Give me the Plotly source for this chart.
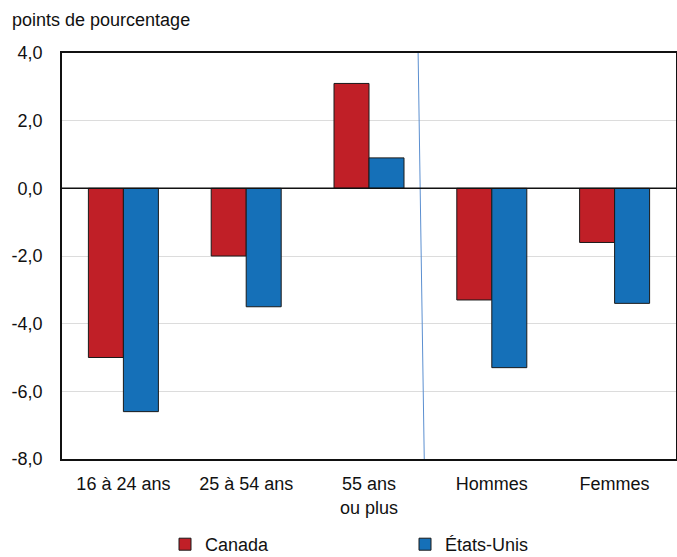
import plotly.graph_objects as go

categories = ["16 à 24 ans", "25 à 54 ans", "55 ans<br>ou plus", "Hommes", "Femmes"]
canada = [-5.0, -2.0, 3.1, -3.3, -1.6]
etats_unis = [-6.6, -3.5, 0.9, -5.3, -3.4]
y_ticks = [-8, -6, -4, -2, 0, 2, 4]
y_ticktext = [f"{v:.1f}".replace(".", ",") for v in y_ticks]

FONT = "Liberation Sans, Arial, sans-serif"
FS = 18
PW = 614
PH = 406

fig = go.Figure()
fig.add_trace(go.Bar(x=categories, y=canada, name="Canada",
                     marker=dict(color="#C01F27", line=dict(color="#1a1a1a", width=1))))
fig.add_trace(go.Bar(x=categories, y=etats_unis, name="États-Unis",
                     marker=dict(color="#1570B8", line=dict(color="#1a1a1a", width=1))))

fig.add_shape(type="line", xref="x", yref="y", x0=2.40, x1=2.45, y0=4, y1=-8,
              line=dict(color="#5b8fd0", width=1))
fig.add_shape(type="line", xref="paper", yref="y", x0=0, x1=1, y0=0, y1=0,
              line=dict(color="#111", width=1.5))

fig.update_layout(
    width=677, height=557,
    margin=dict(l=62, r=1, t=53, b=98, autoexpand=False),
    paper_bgcolor="white", plot_bgcolor="white",
    font=dict(family=FONT, size=FS, color="#111"),
    barmode="group", bargap=0.43, bargroupgap=0,
    showlegend=True,
    legend=dict(orientation="h", x=(165 - 62) / PW, xanchor="left",
                y=-(67 - 0) / PH, yanchor="top",
                entrywidth=195, entrywidthmode="pixels", itemwidth=30,
                font=dict(family=FONT, size=FS), traceorder="normal"),
    annotations=[dict(text="points de pourcentage", xref="paper", yref="paper",
                      x=-52 / PW, y=1.0, yshift=21, xanchor="left", yanchor="bottom",
                      showarrow=False, font=dict(family=FONT, size=FS))],
)
fig.update_xaxes(showline=True, linecolor="#111", linewidth=1.5, mirror=True,
                 showgrid=False, ticks="", automargin=False, ticklabelstandoff=8,
                 tickfont=dict(family=FONT, size=FS))
fig.update_yaxes(range=[-8, 4], tickvals=y_ticks, ticktext=y_ticktext,
                 showline=True, linecolor="#111", linewidth=1.5, mirror=True,
                 showgrid=True, gridcolor="#dcdcdc", gridwidth=1, zeroline=False,
                 ticks="", automargin=False, ticklabelstandoff=14,
                 tickfont=dict(family=FONT, size=FS))

fig.write_html("out.html", config={"displayModeBar": False},
               post_script="document.body.style.margin='0';document.body.style.overflow='hidden';")
